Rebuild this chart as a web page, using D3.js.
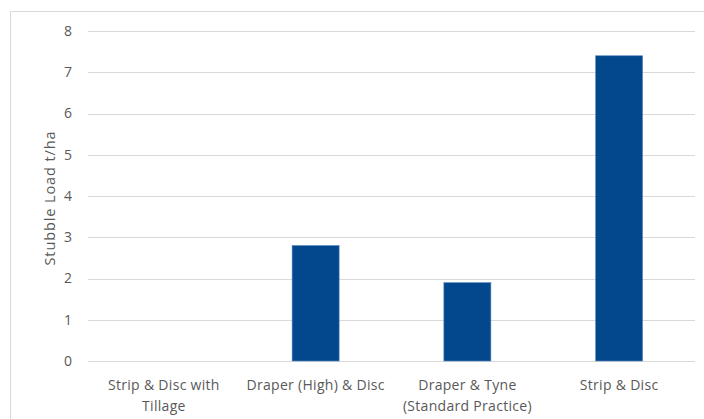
<!DOCTYPE html>
<html>
<head>
<meta charset="utf-8">
<script src="https://cdn.jsdelivr.net/npm/d3@7"></script>
<style>
  body { margin: 0; background: #fff; }
  text { font-family: "Open Sans", "Liberation Sans", sans-serif; fill: #595959; }
</style>
</head>
<body>
<div id="chart"></div>
<script>
// data
const categories = [
    ["Strip & Disc with", "Tillage"],
    ["Draper (High) & Disc"],
    ["Draper & Tyne", "(Standard Practice)"],
    ["Strip & Disc"]
];
const stubbleLoad = [0, 2.8, 1.9, 7.4];
const yTicks = [0, 1, 2, 3, 4, 5, 6, 7, 8];
const yTitle = "Stubble Load t/ha";

const width = 704, height = 419;
const margin = {top: 31, right: 9, bottom: 58, left: 88};

let svg = d3.select("#chart")
    .append("svg")
    .attr("width", width)
    .attr("height", height);

// outer chart frame (runs off the right and bottom edges)
svg.append("rect")
    .attr("x", 10.5)
    .attr("y", 11.5)
    .attr("width", 720)
    .attr("height", 430)
    .attr("fill", "none")
    .attr("stroke", "#D9D9D9");

let x = d3.scaleBand()
    .domain(d3.range(categories.length))
    .range([margin.left, width - margin.right])
    .paddingInner(0.69)
    .paddingOuter(0.345);

let y = d3.scaleLinear()
    .domain([0, 8])
    .range([height - margin.bottom, margin.top]);

// gridlines
svg.append("g")
    .selectAll("line")
    .data(yTicks)
    .enter()
    .append("line")
    .attr("x1", margin.left)
    .attr("x2", width - margin.right)
    .attr("y1", d => Math.round(y(d)) + 0.5)
    .attr("y2", d => Math.round(y(d)) + 0.5)
    .attr("stroke", "#D9D9D9")
    .attr("stroke-width", 1);

// y tick labels
let yAxis = svg.append("g")
    .attr("transform", `translate(${margin.left - 16},0)`)
    .call(d3.axisLeft(y).tickValues(yTicks).tickSize(0).tickPadding(0));
yAxis.select(".domain").remove();
yAxis.selectAll("text")
    .attr("font-size", 14)
    .style("font-family", null)
    .attr("fill", null);

// bars
svg.append("g")
    .selectAll("rect")
    .data(stubbleLoad)
    .enter()
    .append("rect")
    .attr("x", (d, i) => x(i))
    .attr("y", d => y(d))
    .attr("width", x.bandwidth())
    .attr("height", d => y(0) - y(d))
    .attr("fill", "#03488D")
    .attr("stroke", d => d > 0 ? "#5B8BC4" : "none")
    .attr("stroke-width", 0.6);

// x category labels
let xLabels = svg.append("g")
    .selectAll("text")
    .data(categories)
    .enter()
    .append("text")
    .attr("text-anchor", "middle")
    .attr("font-size", 14)
    .attr("letter-spacing", 0.3)
    .attr("x", (d, i) => x(i) + x.bandwidth() / 2)
    .attr("y", height - margin.bottom + 29);

xLabels.selectAll("tspan")
    .data(d => d)
    .enter()
    .append("tspan")
    .attr("x", function() { return d3.select(this.parentNode).attr("x"); })
    .attr("dy", (d, i) => i === 0 ? 0 : 21)
    .text(d => d);

// y axis title
svg.append("text")
    .attr("transform", `translate(55,${(y(0) + y(8)) / 2 + 2}) rotate(-90)`)
    .attr("text-anchor", "middle")
    .attr("font-size", 14.5)
    .attr("letter-spacing", 0.9)
    .text(yTitle);
</script>
</body>
</html>
